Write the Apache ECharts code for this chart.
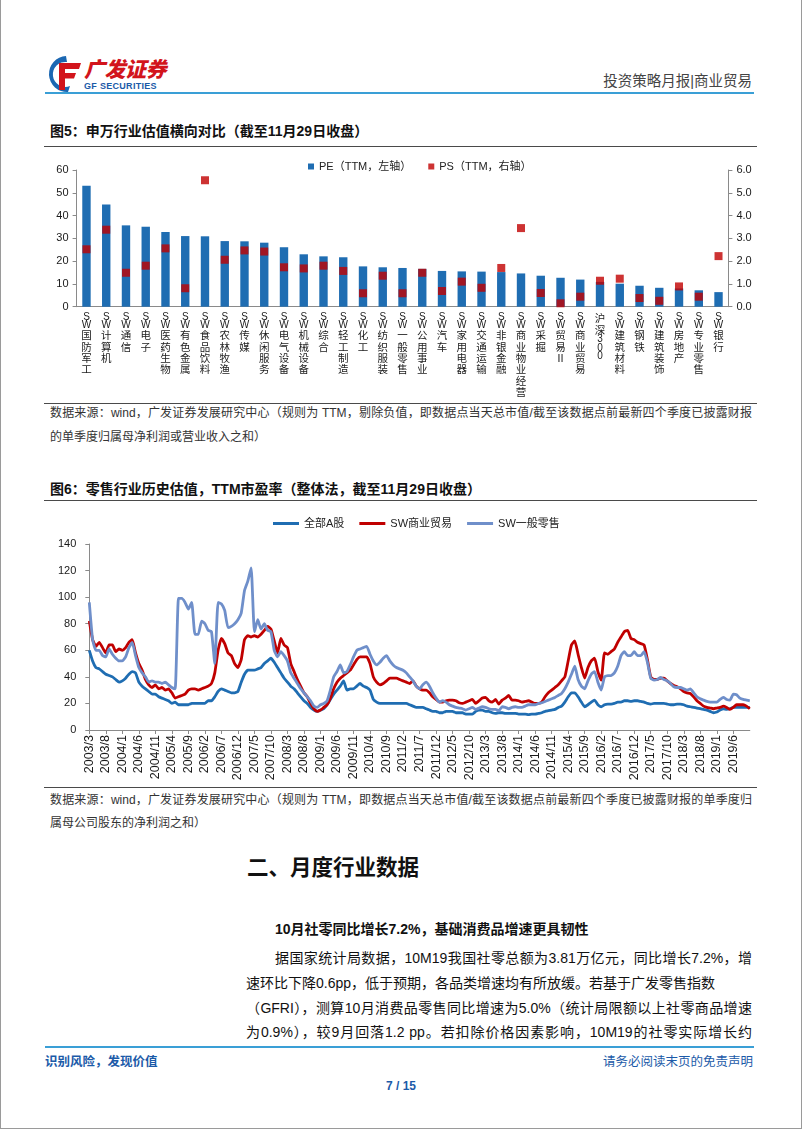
<!DOCTYPE html>
<html><head><meta charset="utf-8">
<script src="https://cdn.jsdelivr.net/npm/echarts@6/dist/echarts.min.js"></script>
<style>
html,body{margin:0;padding:0;background:#fff;}
body{width:802px;height:1133px;position:relative;overflow:hidden;font-family:"Liberation Sans","Noto Sans CJK SC",sans-serif;color:#111;}
.t{position:absolute;white-space:nowrap;}
.j{text-align:justify;text-align-last:justify;}
.hl{position:absolute;height:1px;background:#4a4a4a;left:44px;width:713px;}
</style></head><body>

<!-- ===== data ===== -->
<script>
// Figure 5: SW industries valuation
const industries = ['SW国防军工','SW计算机','SW通信','SW电子','SW医药生物','SW有色金属','SW食品饮料','SW农林牧渔','SW传媒','SW休闲服务','SW电气设备','SW机械设备','SW综合','SW轻工制造','SW化工','SW纺织服装','SW一般零售','SW公用事业','SW汽车','SW家用电器','SW交通运输','SW非银金融','SW商业物业经营','SW采掘','SW贸易Ⅱ','SW商业贸易','沪深300','SW建筑材料','SW钢铁','SW建筑装饰','SW房地产','SW专业零售','SW银行'];
const peTTM = [53.1,44.9,35.7,35.1,32.8,31.0,30.9,28.8,28.7,28.1,26.1,23.0,22.1,21.7,17.7,17.3,17.0,16.6,15.7,15.5,15.4,15.2,14.6,13.6,12.7,11.9,10.9,10.1,9.2,8.3,8.0,7.2,6.4];
const psTTM = [2.52,3.38,1.49,1.80,2.56,0.81,5.55,2.06,2.47,2.42,1.73,1.68,1.80,1.57,0.59,1.36,0.59,1.49,0.69,1.10,0.83,1.70,3.45,0.60,0.15,0.44,1.14,1.23,0.38,0.26,0.89,0.44,2.22];
const legend1 = ['PE（TTM，左轴）','PS（TTM，右轴）'];

// Figure 6: monthly TTM P/E, 2003/3 .. 2019/11
const startYear = 2003, startMonth = 3, monthCount = 201;
const allA = [
 60,52,47,46,44,42,41,40,38,36,
 37,39,42,44,43,36,33,31,29,27,
 27,25,24,23,22,20,21,19,19,19,
 19,20,20,20,20,20,22,22,25,29,
 31,30,29,28,28,29,36,42,45,45,
 45,46,47,50,52,54,51,47,43,39,
 36,33,31,28,25,22,20,17,15,14,
 15,16,19,23,27,30,33,37,30,31,
 31,33,35,33,32,30,23,21,20,20,
 20,20,20,20,20,20,20,19,18,17,
 17,17,16,15,14,14,13,13,14,14,
 14,13,13,13,12,12,12,14,15,15,
 14,14,13,12.5,13,13,12.5,12.5,12.5,12.5,
 12,12,12,11.5,12,12,12.5,13,14,14.5,
 15,15.5,17,18,21,25,28,28,25,21,
 17.5,19,21,22.5,19,17.5,19,19.5,19.5,20,
 21,21,22,22,21.5,22,22,21.5,21,20,
 19.5,20,20,20,20,19.5,19,19,19.5,19.5,
 19,18,17.5,17,16.5,16,15.5,15,14,13,
 13.5,15,16,15.5,16,17,17,17,17,17,
 17];
const swTrade = [
 82,68,63,66,62,58,64,64,59,61,
 60,62,66,68,58,50,45,38,34,32,
 34,31,32,30,31,28,24,25,26,27,
 30,31,31,30,31,32,33,35,43,60,
 69,65,58,56,50,47,53,68,71,70,
 71,70,72,75,78,76,67,58,69,64,
 62,50,44,38,33,28,25,20,16,14,
 15,17,19,24,31,36,39,41,43,45,
 49,53,55,55,55,50,40,36,34,35,
 37,39,39,39,38,37,36,35,37,33,
 31,30,30,28,25,23,21,21,22,22.5,
 22.5,22,20.5,20,21,22,23,20,22,24,
 24.5,22,21,23,19.5,22.5,24,26,22.5,22.5,
 22,21,21.5,22,21,20,20,21,25,28,
 30,32,34,37,40,52,64,67,57,47,
 39,47,52,54,44,37.5,58,57,59,61,
 66,70,74,75,69,68,66,65,64,53,
 40,38,38,39,39,37,35,33.5,32.5,31,
 29,28,27.5,25,22,20,18,17,16.5,16,
 16.5,17,18,17,15.5,17,19,19,19,18,
 16];
const swRetail = [
 96,68,60,60,56,55,61,57,54,52,
 52,55,62,66,56,47,43,40,36,37,
 36,36,35,36,34,32,31,99,99,96,
 91,96,72,72,82,80,75,74,50,96,
 95,90,77,78,80,83,88,105,112,122,
 74,83,76,80,75,74,60,55,59,56,
 52,43,39,35,31,28,25,22,18,17,
 19,20,22,30,40,44,49,43,44,49,
 55,60,61,62,63,57,52,49,51,54,
 56,52,49,47,46,45,43,40,37,33,
 31,34,36,33,28,24,21,22,21,19,
 18,17,16.5,16,15,16,17,15.5,16.5,17.5,
 17,16,15.5,15.5,14.5,17.5,17,16,17,17.5,
 17,17,18,19,19,19,20,20.5,21.5,22.5,
 23.5,24.5,26,27.5,31,36,42,48,38,33,
 31,37,42,44,36,30,40,41,41,43,
 48,56,59,56,56,59,56,56,59,51,
 39,37.5,38,39.5,38,37,35,32.5,32,32,
 31,30,31,28,25,23.5,22.5,21.5,21,21,
 21,23,24.5,23,22.5,27,26.5,24,23,22.5,
 22];
const legend2 = ['全部A股','SW商业贸易','SW一般零售'];
</script>

<!-- ===== header ===== -->
<svg class="t" style="left:44px;top:54px" width="40" height="40" viewBox="0 0 40 40">
  <path d="M22 2 A18 18 0 1 0 24 38 L26 32 A12.5 12.5 0 1 1 23 8 Z" fill="#1b67b2"/>
  <path d="M15 9 H37 L35 15 H21 V19 H32 L30 24.5 H21 V36 H15 Z" fill="#d2141c"/>
</svg>
<div class="t" style="left:84px;top:58px;font-size:21px;line-height:24px;font-weight:900;color:#d2141c;font-style:italic;letter-spacing:-0.5px">广发证券</div>
<div class="t" style="left:84px;top:81px;font-size:9px;line-height:10px;font-weight:bold;color:#1b5aa8;letter-spacing:0.3px;font-family:'Liberation Sans'">GF SECURITIES</div>
<div class="t" style="right:50px;top:72px;font-size:14.5px;line-height:18px;color:#444">投资策略月报|商业贸易</div>
<div class="t" style="left:45px;top:92px;width:709px;height:2px;background:#3a9fd6"></div>

<!-- ===== figure 5 ===== -->
<div class="t" style="left:50px;top:122px;font-size:14px;line-height:18px;font-weight:bold">图5：申万行业估值横向对比（截至11月29日收盘）</div>
<div id="c1" style="position:absolute;left:0;top:145px;width:802px;height:258px"></div>
<div class="hl" style="top:146px"></div>
<div class="hl" style="top:403px"></div>
<div class="t j" style="left:50px;top:405px;width:702px;font-size:12px;line-height:16px;color:#333">数据来源：wind，广发证券发展研究中心（规则为 TTM，剔除负值，即数据点当天总市值/截至该数据点前最新四个季度已披露财报</div>
<div class="t" style="left:50px;top:429px;font-size:12px;line-height:16px;color:#333">的单季度归属母净利润或营业收入之和）</div>

<!-- ===== figure 6 ===== -->
<div class="t" style="left:50px;top:480px;font-size:14px;line-height:18px;font-weight:bold">图6：零售行业历史估值，TTM市盈率（整体法，截至11月29日收盘）</div>
<div id="c2" style="position:absolute;left:0;top:505px;width:802px;height:282px"></div>
<div class="hl" style="top:500px"></div>
<div class="hl" style="top:787px"></div>
<div class="t j" style="left:50px;top:792px;width:702px;font-size:12px;line-height:16px;color:#333">数据来源：wind，广发证券发展研究中心（规则为 TTM，即数据点当天总市值/截至该数据点前最新四个季度已披露财报的单季度归</div>
<div class="t" style="left:50px;top:815px;font-size:12px;line-height:16px;color:#333">属母公司股东的净利润之和）</div>

<!-- ===== text section ===== -->
<div class="t" style="left:247px;top:855px;font-size:21.5px;line-height:26px;font-weight:bold">二、月度行业数据</div>
<div class="t" style="left:275px;top:920px;font-size:14px;line-height:18px;font-weight:bold">10月社零同比增长7.2%，基础消费品增速更具韧性</div>
<div class="t j" style="left:275px;top:949px;width:477px;font-size:14px;line-height:18px">据国家统计局数据，10M19我国社零总额为3.81万亿元，同比增长7.2%，增</div>
<div class="t" style="left:246px;top:974px;font-size:14px;line-height:18px">速环比下降0.6pp，低于预期，各品类增速均有所放缓。若基于广发零售指数</div>
<div class="t j" style="left:246px;top:999px;width:506px;font-size:14px;line-height:18px">（GFRI），测算10月消费品零售同比增速为5.0%（统计局限额以上社零商品增速</div>
<div class="t j" style="left:246px;top:1023px;width:506px;font-size:14px;line-height:18px">为0.9%），较9月回落1.2 pp。若扣除价格因素影响，10M19的社零实际增长约</div>

<!-- ===== footer ===== -->
<div class="t" style="left:45px;top:1046px;width:709px;height:2px;background:#3a9fd6"></div>
<div class="t" style="left:45px;top:1054px;font-size:12.5px;line-height:16px;color:#1b5aa8;font-weight:bold">识别风险，发现价值</div>
<div class="t" style="right:49px;top:1054px;font-size:12.5px;line-height:16px;color:#1b5aa8">请务必阅读末页的免责声明</div>
<div class="t" style="left:0;width:802px;text-align:center;top:1078px;font-size:12px;line-height:16px;color:#1b5aa8;font-weight:bold">7 / 15</div>

<!-- page frame -->
<div class="t" style="left:0;top:-2px;width:800px;height:1130px;border:1px solid #9a9a9a;border-top:none"></div>

<script>
const BLUE = '#1f6db2', RED = '#c00000', LBLUE = '#6f8fca', AX = '#8a8a8a';
const LAT = 'Liberation Sans', CJK = 'Noto Sans CJK SC';

function vert(v){
  const parts = [];
  let s = v;
  if (s.indexOf('SW') === 0){ parts.push('{l|S}','{l|W}'); s = s.slice(2); }
  for (const ch of s){ parts.push(/[0-9A-Za-z]/.test(ch) ? '{l|'+ch+'}' : '{c|'+ch+'}'); }
  return parts.join('\n');
}

const c1 = echarts.init(document.getElementById('c1'), null, {renderer:'canvas'});
c1.setOption({
  animation:false,
  legend:{left:303, top:11, itemWidth:6, itemHeight:6, itemGap:17,
    textStyle:{fontSize:11, color:'#222', fontFamily:LAT+','+CJK},
    data:[{name:legend1[0], icon:'rect'},{name:legend1[1], icon:'rect'}]},
  grid:{left:76.6, top:25, width:651.8, height:136.7, outerBoundsMode:'none', containLabel:false},
  xAxis:{type:'category', data:industries,
    axisLine:{lineStyle:{color:AX}}, axisTick:{length:4, lineStyle:{color:AX}},
    axisLabel:{interval:0, margin:6, color:'#1a1a1a', formatter:vert, align:'center', verticalAlign:'top',
      rich:{l:{fontSize:10, lineHeight:8.5, fontFamily:LAT, color:'#1a1a1a'}, c:{fontSize:10.5, lineHeight:11.3, fontFamily:CJK, color:'#1a1a1a'}}}},
  yAxis:[
    {type:'value', min:0, max:60, interval:10, splitLine:{show:false},
     axisLine:{show:true, lineStyle:{color:AX}}, axisTick:{show:true, length:4, lineStyle:{color:AX}},
     axisLabel:{fontSize:11, color:'#1a1a1a', fontFamily:LAT, margin:8}},
    {type:'value', min:0, max:6, interval:1, position:'right', splitLine:{show:false},
     axisLine:{show:true, lineStyle:{color:AX}}, axisTick:{show:true, length:4, lineStyle:{color:AX}},
     axisLabel:{fontSize:11, color:'#1a1a1a', fontFamily:LAT, margin:8, formatter:v=>v.toFixed(1)}}],
  series:[
    {name:legend1[0], type:'bar', data:peTTM, barWidth:8.4, itemStyle:{color:BLUE}},
    {name:legend1[1], type:'scatter', yAxisIndex:1, data:psTTM, symbol:'rect', symbolSize:8, itemStyle:{color:RED}, z:5}
  ]
});

const months = [];
for (let i = 0; i < monthCount; i++){
  const t = startMonth - 1 + i;
  months.push((startYear + Math.floor(t/12)) + '/' + (t % 12 + 1));
}
const showTick = (idx) => idx % 5 === 0 && idx < monthCount - 1;

const c2 = echarts.init(document.getElementById('c2'), null, {renderer:'canvas'});
const lineSeries = (name, data, color) => ({name, type:'line', data, symbol:'none', showSymbol:false,
  lineStyle:{width:2.8, color}, itemStyle:{color}, smooth:0.15});
c2.setOption({
  animation:false,
  legend:{left:268, top:8, itemWidth:26, itemHeight:3, itemGap:15, icon:'rect',
    textStyle:{fontSize:11, color:'#222', fontFamily:LAT+','+CJK}, data:legend2},
  grid:{left:89.3, top:39, width:660.5, height:186, outerBoundsMode:'none', containLabel:false},
  xAxis:{type:'category', data:months, boundaryGap:false,
    axisLine:{lineStyle:{color:AX}}, axisTick:{interval:showTick, length:4, lineStyle:{color:AX}},
    axisLabel:{interval:showTick, rotate:90, fontSize:12.5, fontFamily:LAT, color:'#1a1a1a', margin:5}},
  yAxis:{type:'value', min:0, max:140, interval:20, splitLine:{show:false},
    axisLine:{show:true, lineStyle:{color:AX}}, axisTick:{show:true, length:4, lineStyle:{color:AX}},
    axisLabel:{fontSize:11, color:'#1a1a1a', fontFamily:LAT, margin:13}},
  series:[
    lineSeries(legend2[0], allA, BLUE),
    lineSeries(legend2[1], swTrade, RED),
    lineSeries(legend2[2], swRetail, LBLUE)
  ]
});
</script>
</body></html>
